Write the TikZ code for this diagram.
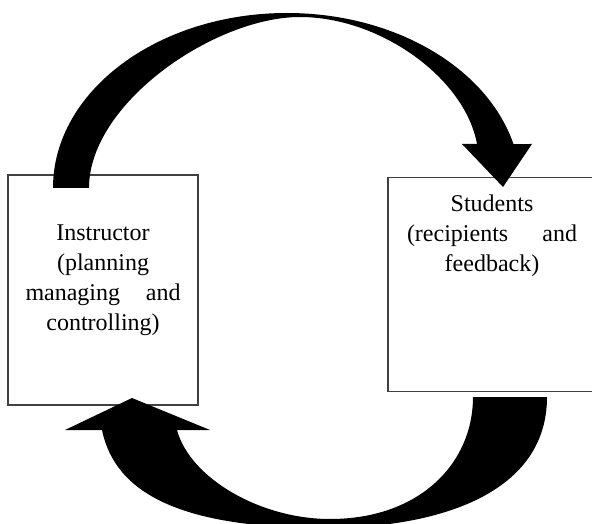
\documentclass[tikz,border=0pt]{standalone}
\usepackage{fontspec}
\setmainfont{Liberation Serif}
\usetikzlibrary{positioning}

\begin{document}
\begin{tikzpicture}[x=1pt, y=1pt,
        box/.style = {draw=black!75, line width=1.3pt, minimum width=190pt, minimum height=230pt, inner sep=0pt},
        txt/.style = {align=center, inner sep=0pt, font=\fontsize{24}{30}\selectfont},
        bigarrow/.style = {fill=black, draw=none}]
            \useasboundingbox (0,0) rectangle (592,523);
            \clip (0,0) rectangle (592,523);

            \node[box] (instr) at (103,233) {};
            \node[box, minimum width=208pt, minimum height=214pt] (stud) at (492,238.5) {};

            \node[txt, text width=155pt, below=50pt of instr.north] (instrtxt) {Instructor\\(planning\\managing\hfill and\\controlling)};
            \node[txt, text width=170pt, below=18pt of stud.north] (studtxt) {Students\\(recipients\hfill and\\feedback)};

            \fill[bigarrow] (53,335) arc[start angle=180, end angle=14.56, x radius=234pt, y radius=175pt]
                -- (532,379) -- (503,336) -- (462,379) -- (477,379)
                .. controls (465,445) and (380,506) .. (300,506)
                .. controls (215,506) and (89,420) .. (89,335) -- cycle;
            \fill[bigarrow] (547,126) .. controls (547,30) and (440,-5) .. (325,-5)
                .. controls (180,-5) and (115,30) .. (102,93)
                -- (65,93) -- (132,125) -- (210,93) -- (177,93)
                .. controls (190,45) and (260,4) .. (330,4)
                .. controls (420,4) and (473,60) .. (473,126) -- cycle;
        \end{tikzpicture}
\end{document}
